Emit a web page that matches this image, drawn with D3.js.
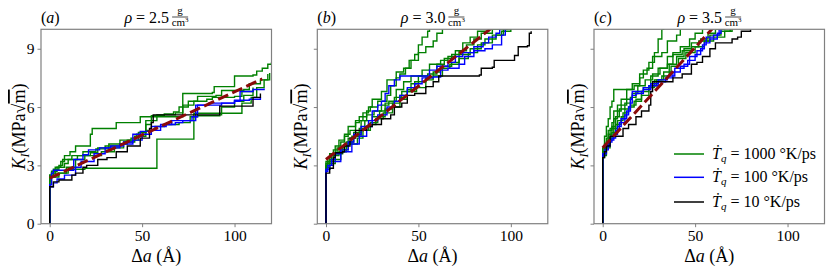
<!DOCTYPE html>
<html>
<head>
<meta charset="utf-8">
<script src="https://cdn.jsdelivr.net/npm/d3@7"></script>
<style>
  body { margin: 0; background: #fff; }
  svg text { font-family: "Liberation Serif", "DejaVu Serif", serif; }
</style>
</head>
<body>
<div id="my_dataviz"></div>
<script>
// ---- data: [delta a (Angstrom), K_I (MPa sqrt m)] staircase corners ----
var panelLabels = ["a", "b", "c"];
var densities = ["2.5", "3.0", "3.5"];
var xTicks = [0, 50, 100];
var yTicks = [0, 3, 6, 9];

// panel (a), rho = 2.5
var greenA = [
  [[0,0],[0,2.5],[1,2.7],[4,2.9],[6,3.2],[8,3.5],[11,3.7],[14,4.0],[22,4.6],[23,4.9],[36,5.2],[49,5.5],[72,5.6],[72,6.7],[88,6.75],[89,7.05],[100,7.1],[100,7.6],[110,7.65],[112,7.85],[115,8.0],[118,8.2],[120,8.3]],
  [[0,0],[0,2.4],[3,2.6],[10,2.8],[19,2.85],[58,2.85],[58,4.35],[77,4.35],[78,5.68],[103,5.68],[104,6.2],[109,6.5],[112,7.0],[116,7.4],[119,7.75]],
  [[0,0],[0,2.5],[2,2.8],[5,3.0],[7,3.3],[12,3.5],[18,3.7],[25,3.85],[32,4.1],[38,4.3],[44,4.4],[47,4.6],[52,5.1],[55,5.3],[58,5.55],[62,5.65],[67,5.75],[70,6.0],[75,6.3],[80,6.55],[90,6.6],[93,6.85],[105,6.9],[108,7.2],[114,7.4],[118,7.7]],
  [[0,0],[0,2.4],[1,2.6],[3,2.9],[8,3.1],[10,3.3],[15,3.5],[22,3.65],[26,3.9],[30,4.0],[38,4.1],[42,4.3],[48,4.7],[52,5.3],[55,5.55],[58,5.6],[64,5.6],[68,5.7],[72,6.1],[78,6.3],[85,6.4],[88,6.5],[100,6.55],[104,6.8],[110,7.0]],
  [[0,0],[0,2.2],[1,2.4],[5,2.6],[9,2.9],[14,3.3],[19,3.5],[28,3.7],[35,3.9],[40,4.2],[46,4.5],[52,4.8],[57,5.0],[62,5.1],[70,5.2],[76,5.5],[80,5.55],[92,5.6],[93,6.0],[100,6.3],[105,6.6],[110,6.9]]
];
var blueA = [
  [[0,0],[0,2.0],[1,2.6],[2,2.75],[12,2.75],[13,3.3],[18,3.55],[21,3.8],[27,3.9],[33,4.0],[40,4.2],[45,4.6],[49,4.75],[55,5.0],[63,5.1],[66,5.3],[78,5.3],[79,6.1],[86,6.2],[100,6.3],[103,6.8],[110,6.9],[116,6.95]],
  [[0,0],[0,1.9],[2,2.1],[4,2.3],[8,2.5],[14,2.9],[17,3.2],[24,3.6],[30,3.9],[38,4.1],[45,4.3],[50,4.6],[55,4.8],[60,5.1],[68,5.2],[72,5.3],[77,5.5],[80,6.1],[93,6.2],[100,6.35],[108,6.4],[114,6.5]]
];
var blackA = [
  [[0,0],[0,1.9],[2,2.15],[5,2.25],[12,2.5],[14,2.6],[18,2.9],[20,3.0],[26,3.3],[31,3.4],[36,3.7],[42,4.0],[49,4.4],[54,4.9],[55,5.2],[56,5.6],[92,5.6],[92,6.05],[109,6.05],[110,6.5],[114,6.7]]
];
var fitA = [[0, 2.34], [115, 7.45]];

// panel (b), rho = 3.0
var greenB = [
  [[0,0],[0,3.0],[1,3.4],[3,3.6],[5,4.0],[8,4.2],[10,4.6],[13,4.8],[16,5.2],[18,5.5],[22,5.8],[24,6.0],[28,6.3],[33,6.6],[35,7.1],[38,7.5],[40,7.7],[43,8.0],[45,8.4],[48,8.7],[50,9.2],[52,9.6],[55,9.9],[56,10.3]],
  [[0,0],[0,2.9],[2,3.6],[4,3.8],[7,4.3],[10,4.5],[12,5.0],[16,5.3],[20,5.7],[23,6.0],[25,6.4],[30,6.8],[33,7.4],[38,7.8],[42,8.0],[46,8.4],[50,8.8],[54,9.1],[58,9.4],[60,9.8],[63,10.1],[65,10.3]],
  [[0,0],[0,3.1],[2,3.3],[5,3.6],[9,4.0],[12,4.4],[15,4.7],[19,5.3],[22,5.6],[26,5.8],[30,6.1],[34,6.3],[38,6.9],[42,7.3],[46,7.6],[52,7.9],[56,8.2],[62,8.4],[66,8.6],[70,8.9],[74,9.3],[78,9.6],[82,9.9],[88,10.3]],
  [[0,0],[0,2.8],[2,3.1],[5,3.3],[8,3.8],[12,4.1],[17,4.4],[20,4.8],[24,5.2],[28,5.5],[32,5.9],[36,6.2],[40,6.6],[44,6.9],[48,7.3],[54,7.5],[58,7.8],[62,8.1],[68,8.3],[72,8.7],[78,9.0],[84,9.3],[90,9.7],[95,9.9],[100,10.3]],
  [[0,0],[0,3.2],[3,3.6],[6,3.9],[10,4.1],[14,4.5],[18,4.9],[21,5.3],[25,5.5],[29,5.8],[32,6.2],[37,6.5],[41,6.8],[46,7.2],[50,7.6],[55,7.7],[60,8.2],[64,8.5],[68,8.7],[72,8.9],[76,9.2],[80,9.5],[84,9.8],[90,10.0],[98,10.3]],
  [[0,0],[0,2.9],[1,3.2],[4,3.5],[7,3.7],[11,4.2],[15,4.5],[19,4.8],[23,5.1],[27,5.4],[31,5.7],[36,6.0],[40,6.4],[44,6.8],[49,7.0],[54,7.4],[58,7.6],[63,8.0],[67,8.2],[72,8.5],[77,8.8],[82,9.2],[86,9.5],[92,9.7],[96,10.0],[100,10.3]]
];
var blueB = [
  [[0,0],[0,2.7],[1,3.0],[3,3.3],[5,3.6],[8,3.8],[12,4.2],[15,4.6],[19,5.0],[23,5.3],[25,5.8],[28,6.1],[30,6.3],[32,6.7],[34,7.1],[37,7.4],[40,7.6],[54,7.6],[56,7.9],[60,8.1],[66,8.3],[70,8.6],[74,8.8],[80,9.1],[85,9.3],[88,9.6],[92,9.8],[94,10.1]],
  [[0,0],[0,2.8],[2,3.0],[4,3.2],[8,3.7],[14,4.1],[18,4.5],[22,5.0],[25,5.3],[28,5.6],[33,6.0],[37,6.3],[40,6.6],[44,7.0],[48,7.2],[52,7.5],[58,7.55],[62,7.9],[66,8.0],[72,8.2],[75,8.6],[80,8.9],[86,9.0],[90,9.2],[95,9.7],[97,10.1]]
];
var blackB = [
  [[0,0],[0,2.6],[2,2.85],[4,3.4],[5,3.65],[9,3.7],[10,4.0],[13,4.4],[16,4.8],[22,5.0],[25,5.1],[30,5.4],[35,5.6],[37,6.0],[41,6.2],[44,6.6],[48,6.7],[54,7.05],[58,7.3],[61,7.6],[83,7.65],[84,8.0],[90,8.05],[91,8.4],[101,8.4],[102,8.65],[104,9.1],[109,9.15],[110,9.8],[111,9.9]]
];
var fitB = [[0, 3.3], [90, 10.1]];

// panel (c), rho = 3.5
var greenC = [
  [[0,0],[0,3.8],[1,4.5],[2,5.0],[3,5.4],[4,6.0],[5,6.3],[6,6.9],[15,6.9],[16,7.2],[20,7.5],[22,7.9],[25,8.3],[28,8.8],[30,9.5],[32,10.0],[33,10.3]],
  [[0,0],[0,3.6],[2,4.2],[3,4.8],[5,5.2],[6,5.8],[8,6.1],[10,6.4],[13,6.9],[17,7.1],[20,7.7],[24,8.0],[27,8.6],[32,8.8],[35,9.4],[40,9.7],[42,10.3]],
  [[0,0],[0,3.7],[1,4.1],[3,4.6],[5,5.0],[7,5.5],[9,5.9],[12,6.2],[15,6.5],[18,6.8],[22,7.0],[26,7.6],[30,8.0],[35,8.6],[38,8.8],[42,9.1],[47,9.5],[50,9.8],[54,10.3]],
  [[0,0],[0,3.5],[2,3.9],[4,4.4],[6,4.9],[8,5.3],[11,5.7],[14,6.0],[17,6.3],[21,6.6],[25,7.0],[28,7.4],[32,7.6],[36,8.2],[40,8.6],[44,9.0],[48,9.3],[53,9.5],[57,9.8],[61,10.0],[66,10.3]],
  [[0,0],[0,3.9],[2,4.4],[4,4.9],[6,5.4],[8,5.8],[10,6.1],[13,6.4],[16,6.7],[19,7.1],[23,7.4],[27,7.7],[31,8.0],[35,8.2],[38,8.7],[43,8.9],[48,9.1],[52,9.4],[58,9.7],[64,9.9],[69,10.3]],
  [[0,0],[0,3.4],[1,3.9],[3,4.3],[5,4.7],[7,5.1],[10,5.5],[12,5.9],[15,6.1],[18,6.4],[21,6.8],[25,7.1],[29,7.4],[33,7.8],[37,8.1],[41,8.5],[45,8.8],[50,9.1],[55,9.4],[60,9.6],[66,9.9],[70,10.3]]
];
var blueC = [
  [[0,0],[0,3.5],[1,3.8],[3,4.2],[5,4.4],[7,4.8],[9,5.2],[12,5.6],[14,6.0],[15,6.4],[16,6.8],[20,6.8],[22,7.0],[25,7.1],[30,7.3],[34,7.5],[38,7.8],[42,8.1],[46,8.4],[50,8.7],[53,9.0],[55,9.3],[58,9.5],[62,9.8],[64,10.1]],
  [[0,0],[0,3.6],[2,4.0],[4,4.3],[6,4.6],[8,5.0],[10,5.4],[13,5.8],[15,6.2],[16,6.6],[18,6.7],[22,6.9],[26,7.2],[30,7.4],[35,7.6],[39,8.0],[44,8.2],[47,8.6],[51,8.9],[54,9.2],[56,9.6],[60,9.7],[63,10.1]]
];
var blackC = [
  [[0,0],[0,3.4],[1,3.7],[2,4.0],[4,4.5],[10,4.5],[11,4.9],[14,5.1],[18,5.5],[21,5.8],[25,6.1],[26,6.8],[27,7.3],[36,7.3],[38,7.5],[43,7.7],[48,8.2],[51,8.3],[54,8.6],[58,9.0],[61,9.3],[70,9.5],[73,9.6],[75,9.9],[80,10.0]]
];
var fitC = [[0, 3.9], [60, 10.1]];

var legendRates = ["1000", "100", "10"];
var legendColors = ["green", "blue", "black"];

var panels = [
  { green: greenA, blue: blueA, black: blackA, fit: fitA },
  { green: greenB, blue: blueB, black: blackB, fit: fitB },
  { green: greenC, blue: blueC, black: blackC, fit: fitC }
];

// ---- layout ----
var W = 830, H = 276;
var panelLeft = [41, 317.3, 594];
var panelW = 230.5;
var plotTop = 29.3, plotH = 194.4;
var frameColor = "#808080";
var serif = "Liberation Serif, DejaVu Serif, serif";

var svg = d3.select("#my_dataviz").append("svg")
  .attr("width", W).attr("height", H);

panels.forEach(function (p, i) {
  var g = svg.append("g")
    .attr("transform", "translate(" + panelLeft[i] + "," + plotTop + ")");

  var x = d3.scaleLinear().domain([-4.7, 120]).range([0, panelW]);
  var y = d3.scaleLinear().domain([0, 10]).range([plotH, 0]);

  g.append("clipPath").attr("id", "clip" + i)
    .append("rect").attr("width", panelW).attr("height", plotH);

  // axes
  var xa = g.append("g")
    .attr("transform", "translate(0," + plotH + ")")
    .call(d3.axisBottom(x).tickValues(xTicks).tickSize(3.5).tickPadding(3));
  var ya = g.append("g")
    .call(d3.axisLeft(y).tickValues(yTicks).tickSize(3.5).tickPadding(3)
      .tickFormat(i == 0 ? d3.format("d") : ""));
  [xa, ya].forEach(function (a) {
    a.select(".domain").remove();
    a.attr("font-family", serif).attr("font-size", 15.5);
    a.selectAll("line").attr("stroke", frameColor);
    a.selectAll("text").attr("fill", "#000");
  });

  var line = d3.line()
    .x(function (d) { return x(d[0]); })
    .y(function (d) { return y(d[1]); })
    .curve(d3.curveStepAfter);

  var plot = g.append("g").attr("clip-path", "url(#clip" + i + ")");

  [["green", p.green], ["blue", p.blue], ["black", p.black]].forEach(function (s) {
    plot.selectAll(null)
      .data(s[1])
      .enter()
      .append("path")
      .attr("d", line)
      .attr("fill", "none")
      .attr("stroke", s[0])
      .attr("stroke-width", 1.4);
  });

  plot.append("path")
    .attr("d", d3.line().x(function (d) { return x(d[0]); }).y(function (d) { return y(d[1]); })(p.fit))
    .attr("fill", "none")
    .attr("stroke", "#8b0a0a")
    .attr("stroke-width", 3)
    .attr("stroke-dasharray", "11,4.5");

  // frame
  g.append("rect")
    .attr("width", panelW).attr("height", plotH)
    .attr("fill", "none").attr("stroke", frameColor).attr("stroke-width", 1.2);

  // panel letter
  var pl = svg.append("text")
    .attr("x", panelLeft[i]).attr("y", 23)
    .style("font-size", "16px");
  pl.append("tspan").text("(");
  pl.append("tspan").style("font-style", "italic").text(panelLabels[i]);
  pl.append("tspan").text(")");

  // title rho = ... g/cm^3
  var cx = panelLeft[i] + panelW / 2;
  var tg = svg.append("g");
  var tt = tg.append("text").attr("y", 23).style("font-size", "16px");
  tt.append("tspan").style("font-style", "italic").text("ρ");
  tt.append("tspan").text(" = " + densities[i]);
  var w1 = tt.node().getComputedTextLength();
  var fw = 16;
  var start = cx - (w1 + 3 + fw) / 2;
  tt.attr("x", start);
  var fx = start + w1 + 3 + fw / 2;
  tg.append("text").attr("x", fx).attr("y", 14).attr("text-anchor", "middle")
    .style("font-size", "11px").text("g");
  tg.append("line").attr("x1", fx - fw / 2).attr("x2", fx + fw / 2)
    .attr("y1", 17).attr("y2", 17).attr("stroke", "#000").attr("stroke-width", 0.7);
  var den = tg.append("text").attr("x", fx).attr("y", 26).attr("text-anchor", "middle")
    .style("font-size", "11px");
  den.append("tspan").text("cm");
  den.append("tspan").attr("dy", -4).style("font-size", "7px").text("3");

  // x label
  var xl = svg.append("text")
    .attr("x", cx).attr("y", 262).attr("text-anchor", "middle")
    .style("font-size", "18px");
  xl.append("tspan").text("Δ");
  xl.append("tspan").style("font-style", "italic").text("a");
  xl.append("tspan").text(" (Å)");

  // y label
  var lx = i == 0 ? 25 : panelLeft[i] - 10;
  var yl = svg.append("text")
    .attr("transform", "translate(" + lx + "," + (plotTop + plotH / 2) + ") rotate(-90)")
    .attr("text-anchor", "middle")
    .style("font-size", "18px");
  yl.append("tspan").style("font-style", "italic").text("K");
  yl.append("tspan").attr("dy", 4).style("font-size", "12px").style("font-style", "italic").text("I");
  yl.append("tspan").attr("dy", -4).text("(MPa√");
  yl.append("tspan").style("text-decoration", "overline").text("m");
  yl.append("tspan").text(")");
});

// legend in panel (c)
var legendY = [154, 177.3, 202];
var lg = svg.append("g");
legendRates.forEach(function (r, k) {
  lg.append("line")
    .attr("x1", 674).attr("x2", 704)
    .attr("y1", legendY[k]).attr("y2", legendY[k])
    .attr("stroke", legendColors[k]).attr("stroke-width", 1.5);
  var t = lg.append("text").attr("x", 712).attr("y", legendY[k] + 5)
    .style("font-size", "16px");
  t.append("tspan").style("font-style", "italic").text("Ṫ");
  t.append("tspan").attr("dy", 3).style("font-size", "11px").style("font-style", "italic").text("q");
  t.append("tspan").attr("dy", -3).text(" = " + r + " °K/ps");
});
</script>
</body>
</html>
